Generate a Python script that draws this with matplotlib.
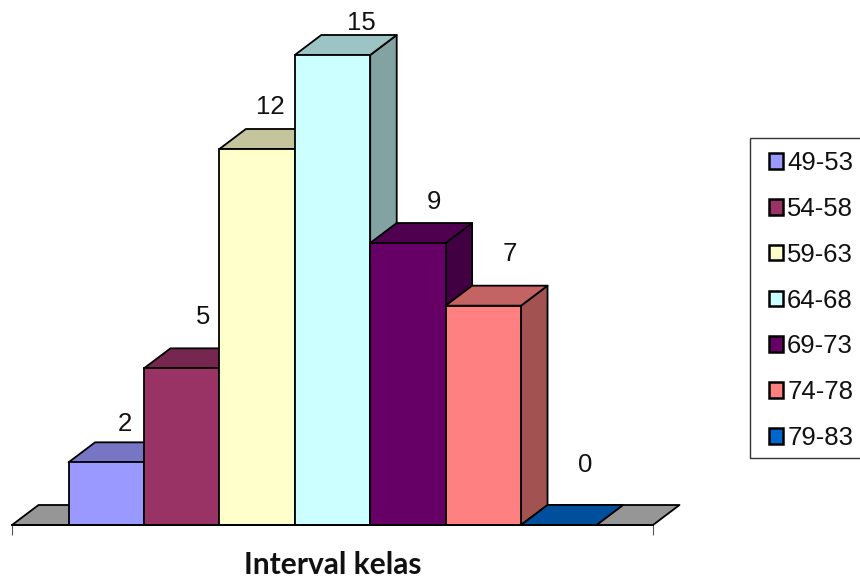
import matplotlib
matplotlib.use("Agg")
import matplotlib.pyplot as plt
from matplotlib.colors import to_rgb
from matplotlib.patches import Patch, Polygon, Rectangle

# values
categories = ["49-53", "54-58", "59-63", "64-68", "69-73", "74-78", "79-83"]
counts = [2, 5, 12, 15, 9, 7, 0]
colors = ["#9999ff", "#993366", "#ffffcc", "#ccffff", "#660066", "#ff8080", "#0066cc"]

# label nudges in pixels (x from bar centre, y from back top edge)
label_dx = [19, 21, 13, 29, 26, 26, 26]
label_dy = [18, 31, 22, 12, 21, 32, 40]

W, H = 860, 581
LW = 1.3
FONT = "Liberation Sans"
FS = 18.5

# pixel layout of the plot area
left, right, base, top = 12, 653, 525, 55
depth_px = (26.5, 20)

fig = plt.figure(figsize=(W / 100, H / 100), dpi=100)
ax = fig.add_axes([left / W, (H - base) / H, (right - left) / W, (base - top) / H])
ax.set_xlim(0, 8.5)
ax.set_ylim(0, 15)

xunit = (right - left) / 8.5
yunit = (base - top) / 15
dx = depth_px[0] / xunit
dy = depth_px[1] / yunit


def shade(color, k):
    return tuple(c * k for c in to_rgb(color))


def face(points, color, z):
    ax.add_patch(Polygon(points, closed=True, facecolor=color, edgecolor="black",
                         linewidth=LW, joinstyle="round", clip_on=False, zorder=z))


# grey floor
face([(0, 0), (8.5, 0), (8.5 + dx, dy), (dx, dy)], "#969696", 1)

# bars, left to right so each one covers the side of the one before
for i, (count, color) in enumerate(zip(counts, colors)):
    x0 = 0.75 + i
    x1 = x0 + 1
    z = 2 + i
    face([(x1, 0), (x1 + dx, dy), (x1 + dx, count + dy), (x1, count)], shade(color, 0.64), z)
    face([(x0, count), (x1, count), (x1 + dx, count + dy), (x0 + dx, count + dy)], shade(color, 0.77), z)
    ax.bar(x0 + 0.5, count, width=1, color=color, edgecolor="black", linewidth=LW,
           clip_on=False, zorder=z)
    ax.annotate(str(count), (x0 + 0.5, count + dy),
                xytext=(label_dx[i] * 0.72, label_dy[i] * 0.72), textcoords="offset points",
                ha="center", va="center", fontsize=FS, family=FONT, color="#111111",
                annotation_clip=False, zorder=20)

for side in ["left", "right", "top"]:
    ax.spines[side].set_visible(False)
ax.spines["bottom"].set_linewidth(LW)
ax.spines["bottom"].set_zorder(15)
ax.patch.set_visible(False)
ax.set_yticks([])
ax.set_xticks([0, 8.5])
ax.set_xticklabels([])
ax.tick_params(axis="x", length=7, width=0.8, color="#555555")

fig.text(333 / W, 1 - 565 / H, "Interval kelas", ha="center", va="center",
         fontsize=21.5, fontweight="bold", family="Lato", color="#111111")

# legend frame runs off the right edge of the picture
fig.add_artist(Rectangle((750 / W, 1 - 458 / H), 120 / W, 320 / H, transform=fig.transFigure,
                         facecolor="white", edgecolor="#333333", linewidth=1.0))
handles = [Patch(facecolor=c, edgecolor="black", linewidth=1.8) for c in colors]
leg = fig.legend(handles, categories, loc="upper left",
                 bbox_to_anchor=(769 / W, 1 - 151 / H), frameon=False,
                 prop={"family": FONT, "size": FS}, borderpad=0, borderaxespad=0,
                 labelspacing=0.85, handlelength=0.56, handleheight=0.56, handletextpad=0.15)
for t in leg.get_texts():
    t.set_color("#111111")

fig.savefig("out.png", dpi=100)
